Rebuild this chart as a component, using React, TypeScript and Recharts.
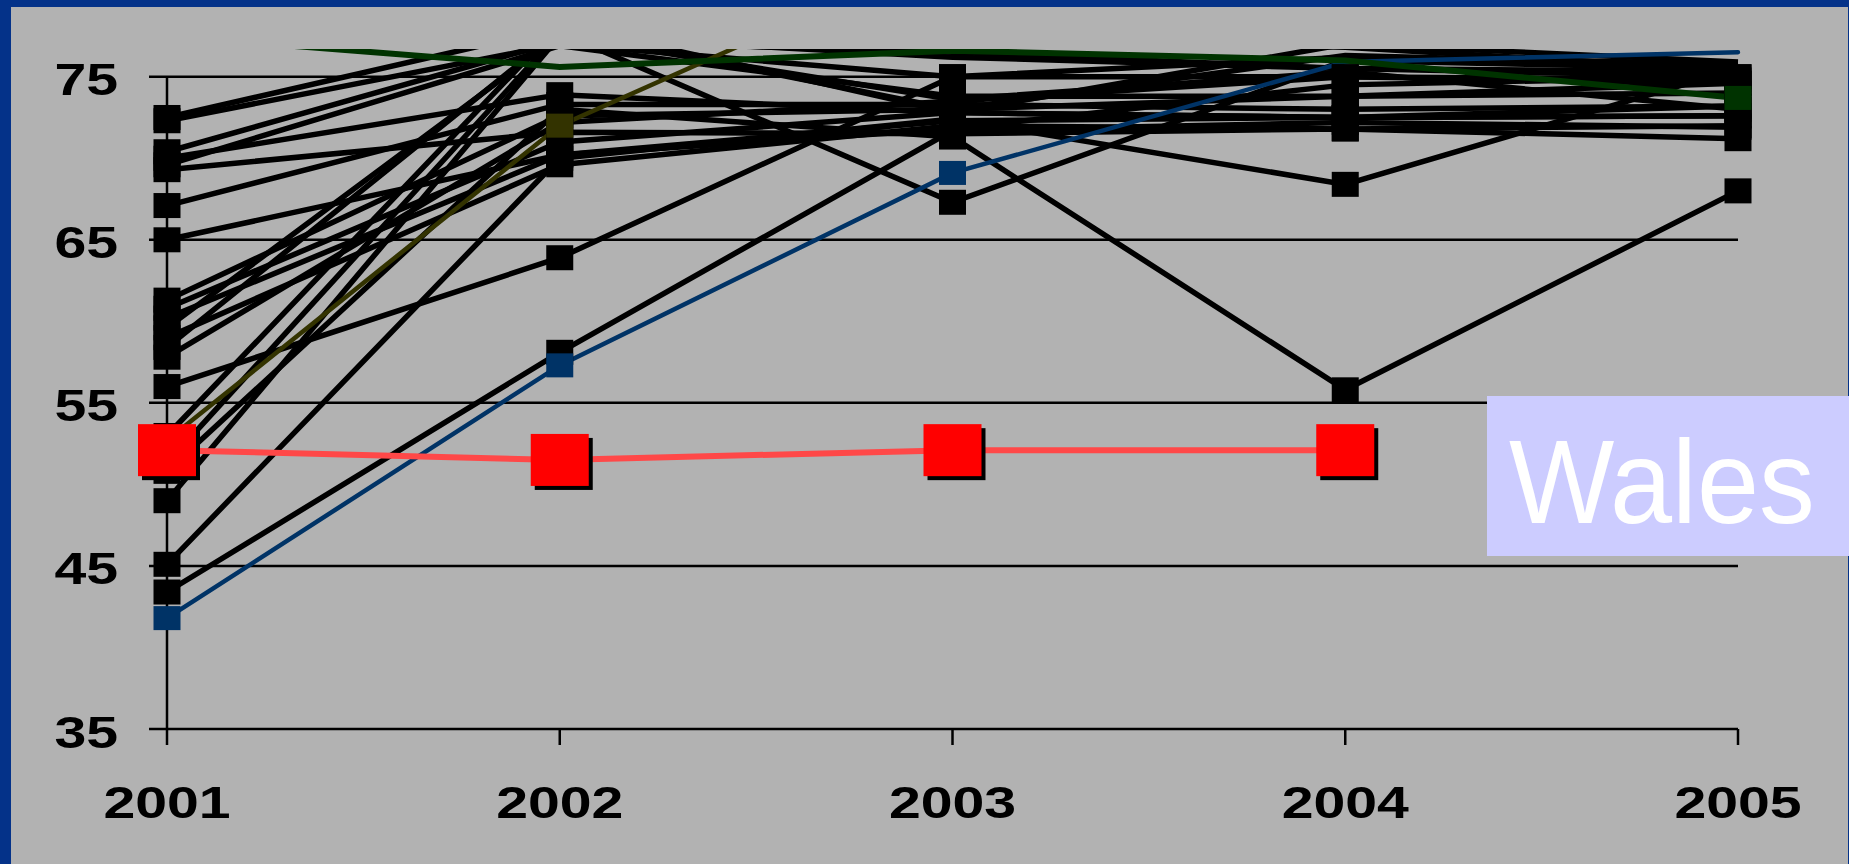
import { LineChart, Line, XAxis, YAxis, CartesianGrid, ReferenceLine } from "recharts";

const years = ["2001", "2002", "2003", "2004", "2005"];
const yTicks = [35, 45, 55, 65, 75];

// the other areas, one row each, values for 2001..2005
const otherAreas: number[][] = [
  [72.5, 78.0, 77.5, 76.8, 75.4],
  [72.3, 77.0, 75.0, 75.0, 74.8],
  [70.4, 77.2, 76.5, 75.5, 75.0],
  [70.0, 73.9, 72.8, 72.5, 72.6],
  [69.6, 76.9, 73.8, 73.8, 74.0],
  [69.3, 71.6, 71.5, 71.8, 71.2],
  [67.1, 73.3, 73.3, 73.0, 73.2],
  [65.0, 70.2, 72.3, 72.5, 72.6],
  [61.3, 72.6, 73.0, 73.8, 74.6],
  [60.8, 71.0, 72.8, 72.5, 73.2],
  [60.2, 70.2, 71.8, 74.5, 75.0],
  [59.6, 77.5, 76.2, 75.5, 75.3],
  [59.0, 69.6, 72.0, 71.8, 72.0],
  [58.4, 77.8, 73.0, 76.3, 75.7],
  [57.8, 72.2, 73.5, 75.0, 74.6],
  [56.0, 63.9, 75.0, 76.2, 75.8],
  [53.0, 78.2, 72.8, 77.0, 75.9],
  [51.3, 77.7, 67.3, 76.0, 75.5],
  [50.8, 73.0, 71.3, 55.8, 68.0],
  [49.0, 77.5, 73.6, 75.3, 73.0],
  [45.1, 70.0, 72.4, 68.4, 75.5],
  [43.4, 58.1, 71.7, 72.2, 71.9],
];

const blueArea = [41.8, 57.3, 69.1, 75.9, 76.5];
const oliveArea = [52.7, 72.0, 82.7, null, null];
const greenArea = [77.5, 75.6, 76.6, 76.0, 73.7];
const wales = [52.1, 51.5, 52.1, 52.1, null];

const AXIS_MAX = 75;
const TOP = 76.7;

const rows = years.map((year, i) => {
  const row: Record<string, any> = {
    year,
    blue: blueArea[i],
    olive: oliveArea[i],
    green: greenArea[i],
    wales: wales[i],
  };
  otherAreas.forEach((s, k) => {
    row[`a${k}`] = s[i];
  });
  return row;
});

const FONT = '"Liberation Sans", Arial, sans-serif';

// square markers; points above the axis maximum get no marker
const squareDot = (w: number, h: number, fill: string, shadow = false) => (props: any) => {
  const { cx, cy, value, index, dataKey } = props;
  const key = `${dataKey}-${index}`;
  if (cx == null || cy == null || value == null || value > AXIS_MAX) return <g key={key} />;
  return (
    <g key={key}>
      {shadow && <rect x={cx - w / 2 + 4} y={cy - h / 2 + 4} width={w} height={h} fill="#000" />}
      <rect x={cx - w / 2} y={cy - h / 2} width={w} height={h} fill={fill} />
    </g>
  );
};

const XTick = (props: any) => {
  const { x, y, payload } = props;
  return (
    <text
      transform={`translate(${x},${y + 73}) scale(1.3,1)`}
      textAnchor="middle"
      fontFamily={FONT}
      fontWeight="bold"
      fontSize={44}
      fill="#000"
    >
      {payload.value}
    </text>
  );
};

const YTick = (props: any) => {
  const { x, y, payload } = props;
  return (
    <text
      transform={`translate(${x - 31},${y + 18.5}) scale(1.3,1)`}
      textAnchor="end"
      fontFamily={FONT}
      fontWeight="bold"
      fontSize={44}
      fill="#000"
    >
      {payload.value}
    </text>
  );
};

// horizontal grid lines stop at the last category
const gridLine = (props: any) => (
  <line
    key={props.key ?? `g-${props.index}`}
    x1={props.x1}
    x2={props.x2 - 14}
    y1={props.y1}
    y2={props.y2}
    stroke="#000"
    strokeWidth={2.5}
  />
);

const lineStyle = (color: string, width: number) => ({
  stroke: color,
  strokeWidth: width,
  style: { strokeWidth: width },
});

export default function App() {
  return (
    <div
      style={{
        position: "fixed",
        left: 0,
        top: 0,
        width: 1849,
        height: 864,
        background: "#043289",
        overflow: "hidden",
      }}
    >
      <div
        style={{
          position: "absolute",
          left: 11,
          top: 7,
          width: 1837,
          height: 857,
          background: "#B2B2B2",
        }}
      />
      <div style={{ position: "absolute", left: 0, top: 0 }}>
        <LineChart width={1849} height={864} data={rows} margin={{ top: 49, right: 97, bottom: 35, left: 0 }}>
          <CartesianGrid vertical={false} horizontal={gridLine} horizontalValues={yTicks} />
          <XAxis
            dataKey="year"
            interval={0}
            padding={{ left: 18, right: 14 }}
            axisLine={false}
            tickLine={{ stroke: "#000", strokeWidth: 2.5 }}
            tickSize={16}
            tickMargin={0}
            height={100}
            tick={<XTick />}
          />
          <YAxis
            type="number"
            domain={[35, TOP]}
            allowDataOverflow
            ticks={yTicks}
            interval={0}
            axisLine={false}
            tickLine={false}
            tickSize={0}
            tickMargin={0}
            width={149}
            tick={<YTick />}
          />
          <YAxis yAxisId="w" type="number" domain={[35, TOP]} hide />
          <ReferenceLine
            segment={[
              { x: "2001", y: 35 },
              { x: "2001", y: 75 },
            ]}
            stroke="#000"
            strokeWidth={2.5}
          />
          {otherAreas.map((_, k) => (
            <Line
              key={`a${k}`}
              dataKey={`a${k}`}
              type="linear"
              {...lineStyle("#000", 5.5)}
              dot={squareDot(27, 25, "#000")}
              activeDot={false}
              isAnimationActive={false}
            />
          ))}
          <Line
            dataKey="blue"
            type="linear"
            {...lineStyle("#003366", 4.5)}
            strokeLinecap="round"
            dot={squareDot(27, 24, "#003366")}
            activeDot={false}
            isAnimationActive={false}
          />
          <Line
            dataKey="olive"
            type="linear"
            {...lineStyle("#333300", 4.5)}
            dot={squareDot(27, 24, "#333300")}
            activeDot={false}
            isAnimationActive={false}
          />
          <Line
            dataKey="green"
            type="linear"
            {...lineStyle("#003300", 6)}
            dot={squareDot(27, 24, "#003300")}
            activeDot={false}
            isAnimationActive={false}
          />
          <Line
            yAxisId="w"
            dataKey="wales"
            type="linear"
            {...lineStyle("#FF4848", 6)}
            dot={squareDot(58, 52, "#FF0000", true)}
            activeDot={false}
            isAnimationActive={false}
          />
        </LineChart>
      </div>
      <div
        style={{
          position: "absolute",
          left: 1487,
          top: 396,
          width: 362,
          height: 160,
          background: "#CCCCFF",
        }}
      >
        <svg width={362} height={160}>
          <text
            transform="translate(22,127) scale(0.945,1)"
            fontFamily={FONT}
            fontSize={118}
            fill="#FFFFFF"
          >
            Wales
          </text>
        </svg>
      </div>
    </div>
  );
}
